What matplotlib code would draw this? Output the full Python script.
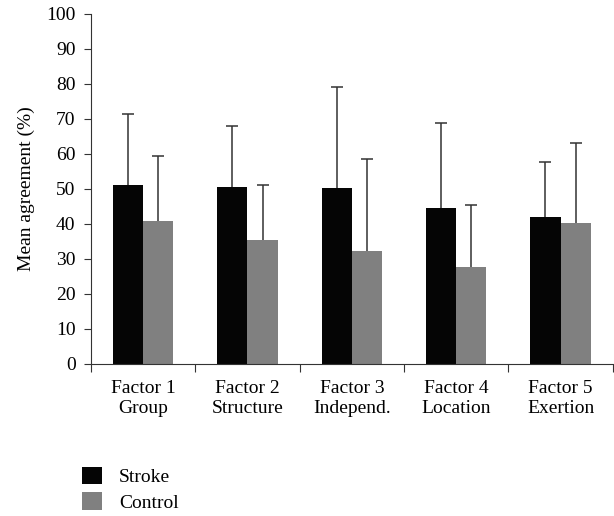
import numpy as np
import matplotlib
matplotlib.use('Agg')
import matplotlib.pyplot as plt

# data
factors = ['Factor 1\nGroup', 'Factor 2\nStructure', 'Factor 3\nIndepend.',
           'Factor 4\nLocation', 'Factor 5\nExertion']
stroke = [51.1, 50.5, 50.2, 44.6, 42.0]
stroke_err = [20.4, 17.4, 29.0, 24.1, 15.8]
control = [40.9, 35.3, 32.2, 27.7, 40.2]
control_err = [18.4, 15.8, 26.4, 17.8, 23.0]

plt.rcParams['font.family'] = ['Liberation Serif', 'DejaVu Serif']
plt.rcParams['font.size'] = 14

fig = plt.figure(figsize=(6.14, 5.16), dpi=100)
ax = fig.add_axes([0.148, 0.295, 0.85, 0.678])

x = np.arange(1, len(factors) + 1)
w = 0.29
zeros = np.zeros(len(x))
ax.bar(x - w/2, stroke, w, color='#050505', label='Stroke')
ax.bar(x + w/2, control, w, color='#808080', label='Control')

# upper-only error bars, hide the lower caps
for xs, ys, es in [(x - w/2, stroke, stroke_err), (x + w/2, control, control_err)]:
    eb = ax.errorbar(xs, ys, yerr=[zeros, es], fmt='none', ecolor='#333333',
                     elinewidth=1.1, capsize=4.5, capthick=1.1)
    eb[1][0].set_visible(False)

ax.set_xlim(0.5, 5.5)
ax.set_ylim(0, 100)
ax.set_yticks(range(0, 101, 10))
ax.set_xticks(np.arange(0.5, 5.6, 1.0))
ax.set_xticklabels([])
ax.set_xticks(x, minor=True)
ax.set_xticklabels(factors, minor=True)
ax.tick_params(axis='x', which='minor', length=0, pad=12)
ax.tick_params(axis='x', which='major', length=6, color='#333333')
ax.tick_params(axis='y', length=5, color='#333333', pad=6)
ax.set_ylabel('Mean agreement (%)', labelpad=8)

for s in ['top', 'right']:
    ax.spines[s].set_visible(False)
for s in ['left', 'bottom']:
    ax.spines[s].set_color('#333333')

fig.legend(loc='upper left', bbox_to_anchor=(0.121, 0.11), frameon=False,
           handlelength=1.0, handleheight=1.0, handletextpad=0.9,
           labelspacing=0.3, borderaxespad=0)

fig.savefig('out.png', dpi=100)
